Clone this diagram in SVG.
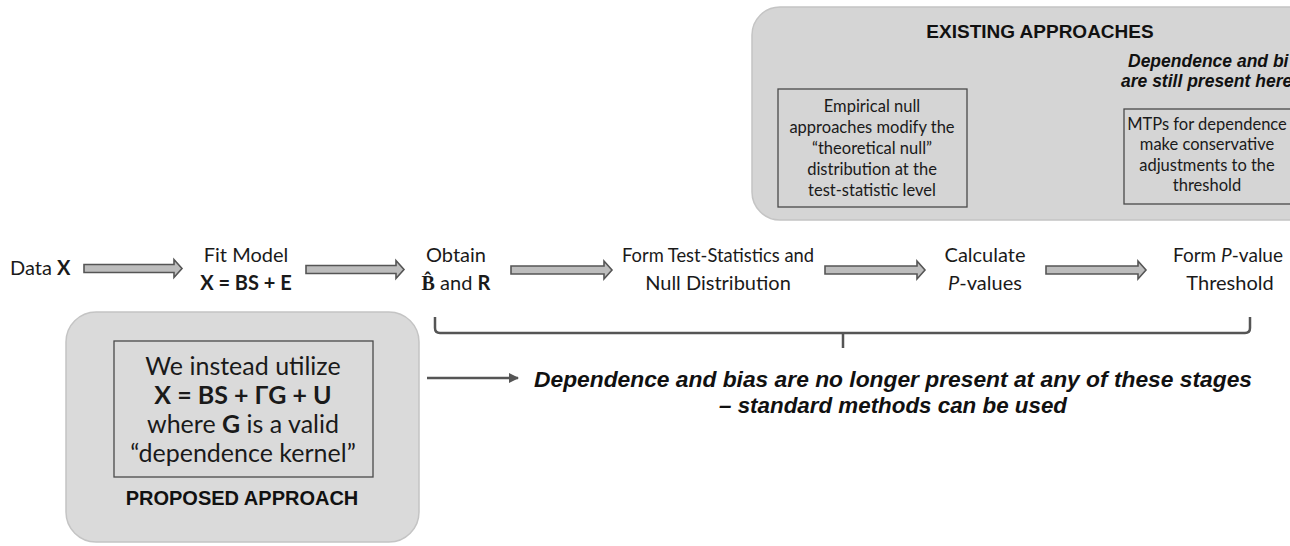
<svg xmlns="http://www.w3.org/2000/svg" width="1290" height="546" viewBox="0 0 1290 546">
<style>
.lbl{font-family:Lato,"Liberation Sans",sans-serif;font-size:20px;fill:#1a1a1a;text-anchor:middle}
.box{font-family:Lato,"Liberation Sans",sans-serif;font-size:16.5px;fill:#1a1a1a;text-anchor:middle}
.big{font-family:Lato,"Liberation Sans",sans-serif;font-size:25px;fill:#1a1a1a;text-anchor:middle}
.hdr{font-family:"Liberation Sans",Arial,sans-serif;font-size:19px;font-weight:bold;fill:#111;text-anchor:middle}
.bi{font-family:"Liberation Sans",Arial,sans-serif;font-weight:bold;font-style:italic;fill:#111}
.b{font-weight:bold}
.i{font-style:italic}
.panel{fill:#d5d5d5;stroke:#c4c4c4;stroke-width:1.5}
.inner{fill:none;stroke:#4a4a4a;stroke-width:1.3}
.blk{fill:#bdbdbd;stroke:#555;stroke-width:1.6;stroke-linejoin:miter}
.ln{fill:none;stroke:#555;stroke-width:2.5}
</style>
<defs>
<marker id="ah" viewBox="0 0 10 10" refX="9" refY="5" markerWidth="4" markerHeight="4" orient="auto" markerUnits="strokeWidth">
<path d="M0,0 L10,5 L0,10 Z" fill="#555"/>
</marker>
</defs>

<g id="existing">
<rect class="panel" x="752" y="7" width="580" height="213" rx="28"/>
<text class="hdr" x="1040" y="38">EXISTING APPROACHES</text>
<text class="bi" font-size="17.5" x="1128" y="67">Dependence and bi</text>
<text class="bi" font-size="17.5" x="1121" y="87">are still present here</text>
</g>

<g id="empirical">
<rect class="inner" x="778" y="89" width="189" height="118"/>
<text class="box" x="872" y="112">Empirical null</text>
<text class="box" x="872" y="133">approaches modify the</text>
<text class="box" x="872" y="154">“theoretical null”</text>
<text class="box" x="872" y="175">distribution at the</text>
<text class="box" x="872" y="196">test-statistic level</text>
</g>

<g id="mtps">
<rect class="inner" x="1124" y="109" width="190" height="95"/>
<text class="box" x="1207" y="130">MTPs for dependence</text>
<text class="box" x="1207" y="150">make conservative</text>
<text class="box" x="1207" y="171">adjustments to the</text>
<text class="box" x="1207" y="191">threshold</text>
</g>

<g id="data"><text class="lbl" x="10" y="275" style="text-anchor:start">Data <tspan class="b">X</tspan></text></g>
<g id="fit">
<text class="lbl" x="246" y="262">Fit Model</text>
<text class="lbl b" x="246" y="290">X = BS + E</text>
</g>
<g id="obtain">
<text class="lbl" x="456" y="262">Obtain</text>
<text class="lbl" x="456" y="290"><tspan class="b" style="font-family:'Liberation Serif',serif">B̂</tspan> and <tspan class="b">R</tspan></text>
</g>
<g id="form">
<text class="lbl" x="718" y="262" textLength="192" lengthAdjust="spacingAndGlyphs">Form Test-Statistics and</text>
<text class="lbl" x="718" y="290">Null Distribution</text>
</g>
<g id="calc">
<text class="lbl" x="985" y="262">Calculate</text>
<text class="lbl" x="985" y="290"><tspan class="i">P</tspan>-values</text>
</g>
<g id="thresh">
<text class="lbl" x="1228" y="262" style="font-size:19px">Form <tspan class="i">P</tspan>-value</text>
<text class="lbl" x="1230" y="290">Threshold</text>
</g>

<g id="proposed">
<rect class="panel" x="66" y="312" width="353" height="230" rx="30" style="fill:#dadada"/>
<rect class="inner" x="114" y="341" width="259" height="136"/>
<text class="big" x="243" y="375">We instead utilize</text>
<text class="big b" x="243" y="404">X = BS + ΓG + U</text>
<text class="big" x="243" y="433">where <tspan class="b">G</tspan> is a valid</text>
<text class="big" x="243" y="462">“dependence kernel”</text>
<text class="hdr" x="242" y="505" style="font-size:20px">PROPOSED APPROACH</text>
</g>

<g id="note">
<text class="bi" font-size="22" x="534" y="387" textLength="718" lengthAdjust="spacingAndGlyphs">Dependence and bias are no longer present at any of these stages</text>
<text class="bi" font-size="22" x="893" y="413" text-anchor="middle" textLength="348" lengthAdjust="spacingAndGlyphs">– standard methods can be used</text>
</g>

<g id="connectors">
<path class="blk" d="M84,264.5 H174 V259.5 L182,268.5 L174,277.5 V272.5 H84 Z"/>
<path class="blk" d="M306,265.5 H396 V260.5 L404,269.5 L396,278.5 V273.5 H306 Z"/>
<path class="blk" d="M511,266 H604 V261 L612,270 L604,279 V274 H511 Z"/>
<path class="blk" d="M825,266 H917 V261 L925,270 L917,279 V274 H825 Z"/>
<path class="blk" d="M1046,266 H1138 V261 L1146,270 L1138,279 V274 H1046 Z"/>
<path class="ln" d="M435,317 V328 Q435,333 440,333 H1245 Q1250,333 1250,328 V317 M843,333 V348"/>
<line class="ln" x1="427" y1="378" x2="518" y2="378" stroke-width="3" marker-end="url(#ah)"/>
</g>
</svg>
